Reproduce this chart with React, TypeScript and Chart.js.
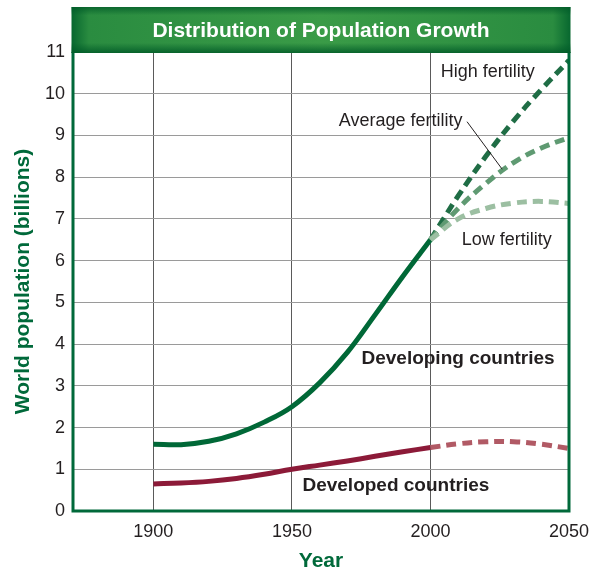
import React, { useEffect, useRef } from "react";
import { Chart, registerables } from "chart.js";
Chart.register(...registerables);

const chartTitle = "Distribution of Population Growth";
const xAxisTitle = "Year";
const yAxisTitle = "World population (billions)";
const xTickValues = [1900, 1950, 2000, 2050];

const historicYears = [1900, 1910, 1920, 1930, 1940, 1950, 1960, 1970, 1980, 1990, 2000];
const developingValues = [1.6, 1.59, 1.67, 1.85, 2.13, 2.5, 3.07, 3.8, 4.7, 5.62, 6.5];
const developedValues = [0.65, 0.67, 0.71, 0.78, 0.88, 1.0, 1.1, 1.2, 1.31, 1.42, 1.52];

const projectionYears = [2000, 2010, 2020, 2030, 2040, 2050];
const developedProjection = [1.52, 1.61, 1.66, 1.66, 1.6, 1.5];
const highFertility = [6.5, 7.55, 8.5, 9.35, 10.1, 10.8];
const averageFertility = [6.5, 7.25, 7.85, 8.35, 8.7, 8.95];
const lowFertility = [6.5, 7.0, 7.25, 7.38, 7.42, 7.37];

// annotation anchors in data units (year, billions)
const labelTexts = ["High fertility", "Average fertility", "Low fertility", "Developing countries", "Developed countries"];
const labelYears = [2003.7, 2011.6, 2011.3, 1975.1, 1953.8];
const labelValues = [10.4, 9.23, 6.37, 3.52, 0.49];
const labelAligns = ["left", "right", "left", "left", "left"];
const labelBold = [false, false, false, true, true];
const leaderYears = [2013.2, 2025.9];
const leaderValues = [9.33, 8.19];

const FONT = "'Liberation Sans', Arial, sans-serif";
const GREEN = "#00693a";

const pts = (xs: number[], ys: number[]) => xs.map((x, i) => ({ x, y: ys[i] }));

export default function App() {
  const ref = useRef<HTMLCanvasElement>(null);
  useEffect(() => {
    document.body.style.margin = "0";
    const canvas = ref.current!;
    const deco = {
      id: "deco",
      afterDatasetsDraw(chart: any) {
        const ctx = chart.ctx;
        const { left, right, top, bottom } = chart.chartArea;
        const xs = chart.scales.x;
        const ys = chart.scales.y;
        ctx.save();
        // border
        ctx.strokeStyle = GREEN;
        ctx.lineWidth = 3;
        ctx.beginPath();
        ctx.moveTo(left, top);
        ctx.lineTo(left, bottom);
        ctx.lineTo(right, bottom);
        ctx.lineTo(right, top);
        ctx.stroke();
        // banner
        const bTop = 7;
        const bx = left - 1.5;
        const bw = right - left + 3;
        const bh = top - bTop + 1;
        const g = ctx.createLinearGradient(bx, 0, bx + bw, 0);
        g.addColorStop(0, "#07672f");
        g.addColorStop(0.035, "#2a8c40");
        g.addColorStop(0.5, "#3a9b47");
        g.addColorStop(0.965, "#2a8c40");
        g.addColorStop(1, "#07672f");
        ctx.fillStyle = g;
        ctx.fillRect(bx, bTop, bw, bh);
        const gv = ctx.createLinearGradient(0, bTop, 0, bTop + bh);
        gv.addColorStop(0, "rgba(0,90,40,0.75)");
        gv.addColorStop(0.18, "rgba(0,90,40,0)");
        gv.addColorStop(0.78, "rgba(0,90,40,0)");
        gv.addColorStop(1, "rgba(0,90,40,0.85)");
        ctx.fillStyle = gv;
        ctx.fillRect(bx, bTop, bw, bh);
        ctx.fillStyle = "#ffffff";
        ctx.font = `bold 21px ${FONT}`;
        ctx.textAlign = "center";
        ctx.textBaseline = "middle";
        ctx.fillText(chartTitle, (left + right) / 2, bTop + bh / 2 + 1);
        // labels
        ctx.fillStyle = "#231f20";
        ctx.textBaseline = "alphabetic";
        labelTexts.forEach((t, i) => {
          ctx.font = labelBold[i] ? `bold 19px ${FONT}` : `18px ${FONT}`;
          ctx.textAlign = labelAligns[i];
          ctx.fillText(t, xs.getPixelForValue(labelYears[i]), ys.getPixelForValue(labelValues[i]));
        });
        // leader line
        ctx.strokeStyle = "#231f20";
        ctx.lineWidth = 1;
        ctx.beginPath();
        ctx.moveTo(xs.getPixelForValue(leaderYears[0]), ys.getPixelForValue(leaderValues[0]));
        ctx.lineTo(xs.getPixelForValue(leaderYears[1]), ys.getPixelForValue(leaderValues[1]));
        ctx.stroke();
        // axis titles
        ctx.fillStyle = GREEN;
        ctx.font = `bold 21px ${FONT}`;
        ctx.textAlign = "center";
        ctx.textBaseline = "middle";
        ctx.fillText(xAxisTitle, (left + right) / 2, 561);
        ctx.translate(23, (top + bottom) / 2);
        ctx.rotate(-Math.PI / 2);
        ctx.fillText(yAxisTitle, 0, 0);
        ctx.restore();
      },
    };
    const dashed = (label: string, xs: number[], ys: number[], color: string) => ({
      label,
      data: pts(xs, ys),
      borderColor: color,
      borderWidth: 5,
      borderDash: [10, 6],
      pointRadius: 0,
      tension: 0.4,
      fill: false,
    });
    const chart = new Chart(canvas, {
      type: "line",
      data: {
        datasets: [
          dashed("Low fertility", projectionYears, lowFertility, "#9cbfa2"),
          dashed("Average fertility", projectionYears, averageFertility, "#5f9a72"),
          dashed("High fertility", projectionYears, highFertility, "#1f6d45"),
          dashed("Developed projection", projectionYears, developedProjection, "#b15a65"),
          {
            label: "Developed countries",
            data: pts(historicYears, developedValues),
            borderColor: "#8c1a38",
            borderWidth: 5,
            pointRadius: 0,
            tension: 0.4,
          },
          {
            label: "Developing countries",
            data: pts(historicYears, developingValues),
            borderColor: "#006837",
            borderWidth: 5,
            pointRadius: 0,
            tension: 0.4,
          },
        ] as any,
      },
      options: {
        animation: false,
        responsive: false,
        maintainAspectRatio: false,
        layout: { padding: { left: 0, top: 52, right: 27, bottom: 0 } },
        plugins: { legend: { display: false }, tooltip: { enabled: false }, title: { display: false } },
        scales: {
          x: {
            type: "linear",
            min: 1871,
            max: 2050,
            afterFit: (s: any) => {
              s.height = 60;
              s.paddingLeft = 0;
              s.paddingRight = 0;
            },
            afterBuildTicks: (s: any) => { s.ticks = xTickValues.map((v) => ({ value: v })); },
            ticks: {
              font: { family: FONT, size: 18 },
              color: "#231f20",
              padding: 10,
              maxRotation: 0,
              autoSkip: false,
              callback: (v: any) => String(v),
            },
            grid: {
              drawTicks: false,
              color: (c: any) => (c.tick && c.tick.value === 2050 ? "rgba(0,0,0,0)" : "#5a5a5a"),
              lineWidth: 1,
            },
            border: { display: false },
          },
          y: {
            type: "linear",
            min: 0,
            max: 11,
            afterFit: (s: any) => {
              s.width = 73;
              s.paddingTop = 0;
              s.paddingBottom = 0;
            },
            ticks: {
              stepSize: 1,
              font: { family: FONT, size: 18 },
              color: "#231f20",
              padding: 8,
            },
            grid: {
              drawTicks: false,
              color: (c: any) =>
                c.tick && (c.tick.value === 0 || c.tick.value === 11) ? "rgba(0,0,0,0)" : "#9a9a9a",
              lineWidth: 1,
            },
            border: { display: false },
          },
        },
      } as any,
      plugins: [deco],
    });
    return () => chart.destroy();
  }, []);
  return <canvas ref={ref} width={596} height={571} style={{ display: "block" }} />;
}
